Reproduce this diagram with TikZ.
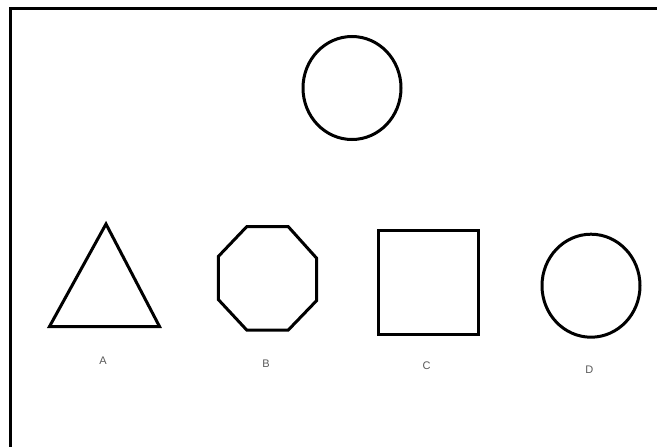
\documentclass[tikz,border=0pt]{standalone}
\usepackage{fontspec}
\setmainfont{Liberation Sans}
\begin{document}
\begin{tikzpicture}[x=1pt,y=-1pt,
  figline/.style={line width=3pt,line join=miter},
  frameline/.style={line width=3pt},
  lbl/.style={text=black!65,font=\fontsize{11}{13}\selectfont,inner sep=0pt}]
\useasboundingbox (0,0) rectangle (657,447);
\fill[white] (0,0) rectangle (657,447);
% frame (top and left only)
\draw[frameline] (10,447) -- (10,8) -- (657,8);
% top circle
\draw[figline] (352,88) ellipse [x radius=49, y radius=51.5];
% A triangle
\draw[figline] (106,224) -- (159.5,326.5) -- (49.5,326.5) -- cycle;
\node[lbl] (la) at (103,361) {A};
% B octagon
\draw[figline] (246.7,226.7) -- (288.3,226.7) -- (316.7,258.3) -- (316.7,300.5)
  -- (288.3,330) -- (246.7,330) -- (218.3,299.5) -- (218.3,256.5) -- cycle;
\node[lbl] (lb) at (266,364) {B};
% C square
\draw[figline] (378.5,230) rectangle (478.3,334);
\node[lbl] (lc) at (426.7,366) {C};
% D circle
\draw[figline] (591,285.7) ellipse [x radius=49, y radius=51.5];
\node[lbl] (ld) at (589.3,370) {D};
\end{tikzpicture}
\end{document}
